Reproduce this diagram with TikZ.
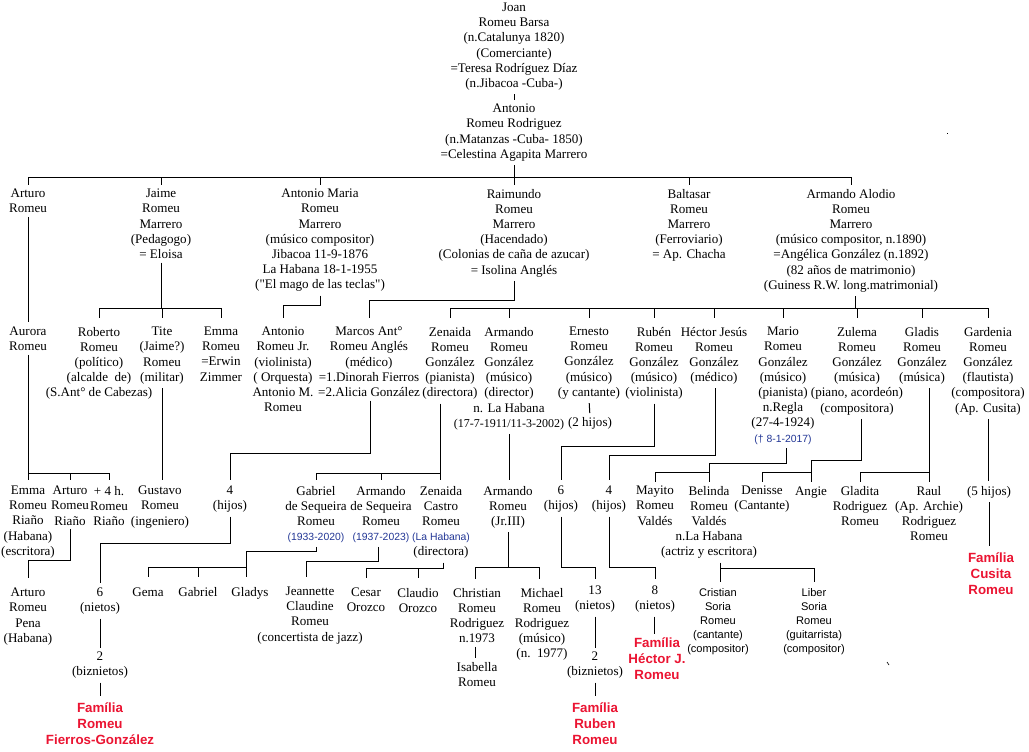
\documentclass[tikz,border=0pt]{standalone}
\usepackage{fontspec}
\setmainfont{Liberation Serif}
\setsansfont{Liberation Sans}
\definecolor{tblue}{RGB}{35,55,150}
\definecolor{tred}{RGB}{235,20,50}
\newcommand{\blu}[1]{{\color{tblue}\sffamily\fontsize{7.8pt}{11.4pt}\selectfont #1}}
\newcommand{\sq}{\XeTeXglyph\XeTeXcharglyph34\relax}
\tikzset{
 tx/.style={align=center, inner sep=0pt, outer sep=0pt, anchor=north, font=\fontsize{9.8pt}{11.4pt}\selectfont, execute at begin node={\rule{0pt}{7.2pt}}},
 fam/.style={tx, text=tred, font=\sffamily\bfseries\fontsize{10pt}{12pt}\selectfont},
 sml/.style={tx, font=\sffamily\fontsize{8.3pt}{10.5pt}\selectfont},
 st/.style={shorten <=3pt},
}
\begin{document}
\begin{tikzpicture}[x=0.75pt, y=-0.75pt, line width=0.75pt]
\fill[white] (0,0) rectangle (1029,751);
\path[use as bounding box] (0,0) rectangle (1029,751);

% ---------- top ----------
\node[tx] (joan) at (514,3) {Joan\\Romeu Barsa\\(n.Catalunya 1820)\\(Comerciante)\\=Teresa Rodríguez Díaz\\(n.Jibacoa -Cuba-)};
\node[tx] (antonio) at (514,104) {Antonio\\Romeu Rodriguez\\(n.Matanzas -Cuba- 1850)\\=Celestina Agapita Marrero};

% ---------- row 2 ----------
\node[tx] (arturo) at (28,189) {Arturo\\Romeu};
\node[tx] (jaime) at (161,189) {Jaime\\Romeu\\Marrero\\(Pedagogo)\\= Eloisa};
\node[tx] (antmaria) at (320,189) {Antonio Maria\\Romeu\\Marrero\\(músico compositor)\\Jibacoa 11-9-1876\\La Habana 18-1-1955\\(\sq El mago de las teclas\sq)};
\node[tx] (raimundo) at (514,189) {Raimundo\\Romeu\\Marrero\\(Hacendado)\\(Colonias de caña de azucar)\\= Isolina Anglés};
\node[tx] (baltasar) at (689,189) {Baltasar\\Romeu\\Marrero\\(Ferroviario)\\= Ap. Chacha};
\node[tx] (alodio) at (851,189) {Armando Alodio\\Romeu\\Marrero\\(músico compositor, n.1890)\\=Angélica González (n.1892)\\(82 años de matrimonio)\\(Guiness R.W. long.matrimonial)};

% ---------- row 3 ----------
\node[tx] (aurora) at (28,327) {Aurora\\Romeu};
\node[tx] (roberto) at (99,327) {Roberto\\Romeu\\(político)\\(alcalde~ de)\\(S.Ant° de Cabezas)};
\node[tx] (tite) at (162,327) {Tite\\(Jaime?)\\Romeu\\(militar)};
\node[tx] (emma) at (221,327) {Emma\\Romeu\\=Erwin\\Zimmer};
\node[tx] (antjr) at (283,327) {Antonio\\Romeu Jr.\\(violinista)\\( Orquesta)\\Antonio M.\\Romeu};
\node[tx] (marcos) at (369,327) {Marcos Ant°\\Romeu Anglés\\(médico)\\=1.Dinorah Fierros\\=2.Alicia González};
\node[tx] (zenaida) at (450,327) {Zenaida\\Romeu\\González\\(pianista)\\(directora)};
\node[tx] (armrg) at (509,327) {Armando\\Romeu\\González\\(músico)\\(director)\\n. La Habana\\{\fontsize{9pt}{11.4pt}\selectfont(17-7-1911/11-3-2002)}};
\node[tx] (ernesto) at (589,327) {Ernesto\\Romeu\\González\\(músico)\\(y cantante)};
\node[tx] (ernhijos) at (590,417) {(2 hijos)};
\node[tx] (ruben) at (654,327) {Rubén\\Romeu\\González\\(músico)\\(violinista)};
\node[tx] (hector) at (714,327) {Héctor Jesús\\Romeu\\González\\(médico)};
\node[tx] (mario) at (783,327) {Mario\\Romeu\\González\\(músico)\\(pianista)\\n.Regla\\(27-4-1924)\\\blu{(† 8-1-2017)}};
\node[tx] (zulema) at (857,327) {Zulema\\Romeu\\González\\(música)\\(piano, acordeón)\\(compositora)};
\node[tx] (gladis) at (922,327) {Gladis\\Romeu\\González\\(música)};
\node[tx] (gardenia) at (988,327) {Gardenia\\Romeu\\González\\(flautista)\\(compositora)\\(Ap. Cusita)};

% ---------- row 4 ----------
\node[tx] (emmarr) at (28,486) {Emma\\Romeu\\Riaño\\(Habana)\\(escritora)};
\node[tx] (arturorr) at (70,486) {Arturo\\Romeu\\Riaño};
\node[tx] (plus4) at (109,486) {+ 4 h.\\Romeu\\Riaño};
\node[tx] (gustavo) at (160,486) {Gustavo\\Romeu\\(ingeniero)};
\node[tx] (hijos4) at (230,486) {4\\(hijos)};
\node[tx] (gabriel) at (316,486) {Gabriel\\de Sequeira\\Romeu\\\blu{(1933-2020)}};
\node[tx] (armseq) at (381,486) {Armando\\de Sequeira\\Romeu\\\blu{(1937-2023)}};
\node[tx] (zencastro) at (441,486) {Zenaida\\Castro\\Romeu\\\blu{(La Habana)}\\(directora)};
\node[tx] (armjr) at (508,486) {Armando\\Romeu\\(Jr.III)};
\node[tx] (hijos6) at (561,486) {6\\(hijos)};
\node[tx] (hijos4b) at (609,486) {4\\(hijos)};
\node[tx] (mayito) at (655,486) {Mayito\\Romeu\\Valdés};
\node[tx] (belinda) at (709,486) {Belinda\\Romeu\\Valdés\\n.La Habana\\(actriz y escritora)};
\node[tx] (denisse) at (762,486) {Denisse\\(Cantante)};
\node[tx] (angie) at (811,486) {Angie};
\node[tx] (gladita) at (860,486) {Gladita\\Rodriguez\\Romeu};
\node[tx] (raul) at (929,486) {Raul\\(Ap. Archie)\\Rodriguez\\Romeu};
\node[tx] (hijos5) at (989,486) {(5 hijos)};
\node[fam] (famcr) at (991,553) {Família\\Cusita\\Romeu};

% ---------- row 5 ----------
\node[tx] (arturop) at (28,588) {Arturo\\Romeu\\Pena\\(Habana)};
\node[tx] (nietos6) at (100,588) {6\\(nietos)};
\node[tx] (biz2a) at (100,652) {2\\(biznietos)};
\node[fam] (famfg) at (100,703) {Família\\Romeu\\Fierros-González};
\node[tx] (gema) at (148,587) {Gema};
\node[tx] (gabriel2) at (198,587) {Gabriel};
\node[tx] (gladys) at (250,587) {Gladys};
\node[tx] (jeannette) at (310,587) {Jeannette\\Claudine\\Romeu\\(concertista de jazz)};
\node[tx] (cesar) at (366,588) {Cesar\\Orozco};
\node[tx] (claudio) at (418,588) {Claudio\\Orozco};
\node[tx] (christian) at (477,588) {Christian\\Romeu\\Rodriguez\\n.1973};
\node[tx] (isabella) at (477,662) {Isabella\\Romeu};
\node[tx] (michael) at (542,588) {Michael\\Romeu\\Rodriguez\\(músico)\\(n.~~1977)};
\node[tx] (nietos13) at (595,586) {13\\(nietos)};
\node[tx] (biz2b) at (595,652) {2\\(biznietos)};
\node[fam] (famrr) at (595,703) {Família\\Ruben\\Romeu};
\node[tx] (nietos8) at (655,586) {8\\(nietos)};
\node[fam] (famhj) at (657,638) {Família\\Héctor J.\\Romeu};
\node[sml] (cristian) at (718,588) {Cristian\\Soria\\Romeu\\(cantante)\\(compositor)};
\node[sml] (liber) at (814,588) {Liber\\Soria\\Romeu\\(guitarrista)\\(compositor)};

% stray marks
\fill (946.5,132.5) rectangle (948,134);
\draw[line width=0.5pt] (887,662) -- (889,665);

% ---------- offset anchors ----------
\coordinate (alodioL) at ([xshift=3pt]alodio.south);
\coordinate (marcosL) at ([xshift=0.75pt]marcos.south);
\coordinate (zenL) at ([xshift=-7.5pt]zenaida.south);
\coordinate (hectorL) at ([xshift=0.75pt]hector.south);
\coordinate (marioL) at ([xshift=2.25pt]mario.south);
\coordinate (zulemaL) at ([xshift=3pt]zulema.south);
\coordinate (gladisL) at ([xshift=5.25pt]gladis.south);
\coordinate (armseqL) at ([xshift=-2.25pt]armseq.south);
\coordinate (zencL) at ([xshift=1.5pt]zencastro.south);
\coordinate (belL) at ([xshift=8.25pt]belinda.south);
\coordinate (gladysT) at ([xshift=-3pt]gladys.north);
\coordinate (jeanT) at ([xshift=-3pt]jeannette.north);
\coordinate (chrT) at ([xshift=-1.5pt]christian.north);
\coordinate (micT) at ([xshift=-2.25pt]michael.north);

% ---------- connectors: top ----------
\draw[shorten <=3pt, shorten >=3pt] (joan.south) -- (antonio.north);
\draw[st] (antonio.south) -- (antonio.south |- 0,177);
\draw (arturo.north |- 0,177) -- (alodio.north |- 0,177);
\foreach \n in {arturo,jaime,antmaria,raimundo,baltasar,alodio}
  \draw (\n.north |- 0,177) -- (\n.north |- 0,185);

% ---------- row 2 -> row 3 ----------
\draw[st] (arturo.south) -- (arturo.south |- 0,322);
\draw[st] (jaime.south) -- (jaime.south |- 0,308);
\draw (roberto.north |- 0,308) -- (emma.north |- 0,308);
\foreach \n in {roberto,tite,emma} \draw (\n.north |- 0,308) -- (\n.north |- 0,318);
\draw[st] (antmaria.south) |- (antjr.north |- 0,305) -- (antjr.north |- 0,318);
\draw[st] (raimundo.south) |- (marcos.north |- 0,300) -- (marcos.north |- 0,318);
\draw[st] (alodioL) -- (alodioL |- 0,308);
\draw (zenaida.north |- 0,308) -- (gardenia.north |- 0,308);
\foreach \n in {zenaida,armrg,ernesto,ruben,hector,mario,zulema,gladis,gardenia}
  \draw (\n.north |- 0,308) -- (\n.north |- 0,318);

% ---------- row 3 -> row 4 ----------
\draw[st] (aurora.south) -- (aurora.south |- 0,473);
\draw (emmarr.north |- 0,473) -- (plus4.north |- 0,473);
\foreach \n in {emmarr,arturorr,plus4} \draw (\n.north |- 0,473) -- (\n.north |- 0,480);
\draw[st] (tite.south) -- (tite.south |- 0,480);
\draw[st] (marcosL) |- (hijos4.north |- 0,453) -- (hijos4.north |- 0,480);
\draw[st] (zenL) -- (zenL |- 0,480);
\draw (gabriel.north |- 0,473) -- (zenL |- 0,473);
\foreach \n in {gabriel,armseq} \draw (\n.north |- 0,473) -- (\n.north |- 0,480);
\draw[st] (armrg.south) -- (armrg.south |- 0,480);
\draw[shorten <=3pt, shorten >=3pt] (ernesto.south) -- (ernhijos.north);
\draw[st] (ruben.south) |- (hijos6.north |- 0,446) -- (hijos6.north |- 0,480);
\draw[st] (hectorL) |- (hijos4b.north |- 0,455) -- (hijos4b.north |- 0,480);
\draw[st] (marioL) |- (belinda.north |- 0,463) -- (belinda.north |- 0,482);
\draw (belinda.north |- 0,472) -| (mayito.north |- 0,482);
\draw[st] (zulemaL) |- (angie.north |- 0,460) -- (angie.north |- 0,482);
\draw (angie.north |- 0,472) -| (denisse.north |- 0,482);
\draw[st] (gladisL) -- (gladisL |- 0,482);
\draw (gladisL |- 0,472) -| (gladita.north |- 0,482);
\draw[st] (gardenia.south) -- (gardenia.south |- 0,481);
\draw[shorten <=3pt, shorten >=5pt] (hijos5.south) -- (hijos5.south |- famcr.north);

% ---------- row 4 -> row 5 ----------
\draw[st] (arturorr.south) |- (arturop.north |- 0,560) -- (arturop.north |- 0,578);
\draw[st] (hijos4.south) |- (nietos6.north |- 0,543) -- (nietos6.north |- 0,583);
\draw[st] (gabriel.south) |- (gladysT |- 0,551) -- (gladysT |- 0,577);
\draw (gema.north |- 0,567) -- (gladysT |- 0,567);
\foreach \n in {gema,gabriel2} \draw (\n.north |- 0,567) -- (\n.north |- 0,577);
\draw[st] (armseqL) |- (jeanT |- 0,561) -- (jeanT |- 0,577);
\draw[st] (zencL) |- (cesar.north |- 0,568) -- (cesar.north |- 0,578);
\draw (claudio.north |- 0,568) -- (claudio.north |- 0,578);
\draw[st] (armjr.south) -- (armjr.south |- 0,567);
\draw (chrT |- 0,567) -- (micT |- 0,567);
\draw (chrT |- 0,567) -- (chrT |- 0,579);
\draw (micT |- 0,567) -- (micT |- 0,579);
\draw[st] (hijos6.south) |- (nietos13.north |- 0,567) -- (nietos13.north |- 0,579);
\draw[st] (hijos4b.south) |- (nietos8.north |- 0,567) -- (nietos8.north |- 0,579);
\draw[st] (belL) -- (belL |- 0,582);
\draw (belL |- 0,568) -| (liber.north |- 0,582);

% ---------- row 5 internal ----------
\draw[shorten <=3pt, shorten >=3pt] ([xshift=-1.5pt]christian.south) -- ([xshift=-1.5pt]isabella.north);
\draw[shorten <=3pt, shorten >=3pt] (nietos6.south) -- (biz2a.north);
\draw[shorten <=3pt, shorten >=5pt] (biz2a.south) -- (famfg.north);
\draw[shorten <=3pt, shorten >=3pt] (nietos13.south) -- (biz2b.north);
\draw[shorten <=3pt, shorten >=5pt] (biz2b.south) -- (famrr.north);
\draw[shorten <=3pt, shorten >=3pt] ([xshift=-0.75pt]nietos8.south) -- ([xshift=-0.75pt]nietos8.south |- famhj.north);
\end{tikzpicture}
\end{document}
